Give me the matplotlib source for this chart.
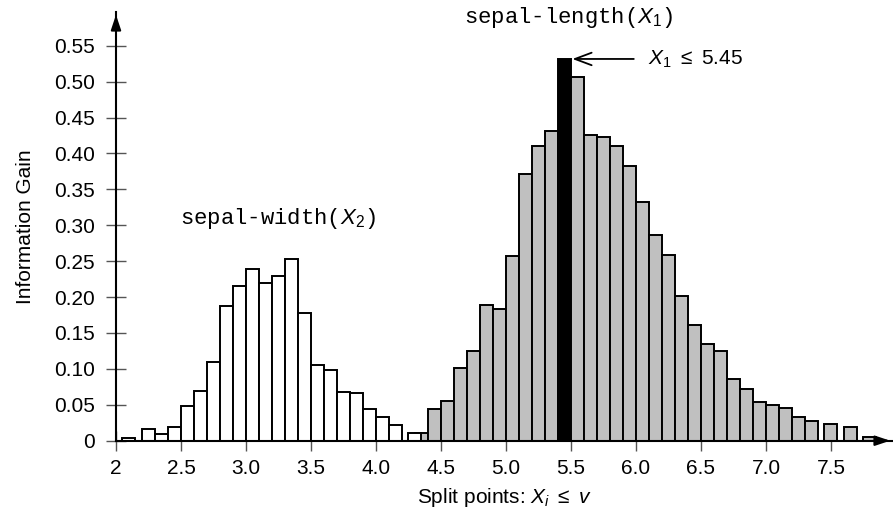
import matplotlib
matplotlib.use("Agg")
import matplotlib.pyplot as plt

plt.rcParams["font.family"] = ["Liberation Sans", "DejaVu Sans"]
plt.rcParams["mathtext.fontset"] = "custom"
plt.rcParams["mathtext.rm"] = "Liberation Sans"
plt.rcParams["mathtext.it"] = "Liberation Sans:italic"

# ----- Daten ----------------------------------------------------------------

# sepal-width (X2): Split-Punkte und Information Gain
width_splits = [2.1, 2.25, 2.35, 2.45, 2.55, 2.65, 2.75, 2.85, 2.95, 3.05, 3.15,
                3.25, 3.35, 3.45, 3.55, 3.65, 3.75, 3.85, 3.95, 4.05, 4.15, 4.3]
width_gain = [0.004, 0.016, 0.010, 0.0185, 0.048, 0.069, 0.110, 0.187, 0.216,
              0.239, 0.220, 0.229, 0.253, 0.178, 0.106, 0.099, 0.068, 0.066,
              0.0435, 0.0325, 0.022, 0.0105]

# sepal-length (X1)
length_splits = [4.35, 4.45, 4.55, 4.65, 4.75, 4.85, 4.95, 5.05, 5.15, 5.25,
                 5.35, 5.45, 5.55, 5.65, 5.75, 5.85, 5.95, 6.05, 6.15, 6.25,
                 6.35, 6.45, 6.55, 6.65, 6.75, 6.85, 6.95, 7.05, 7.15, 7.25,
                 7.35, 7.5, 7.65, 7.8]
length_gain = [0.0105, 0.0437, 0.0552, 0.1007, 0.1253, 0.1885, 0.1838, 0.2572,
               0.3714, 0.4104, 0.4317, 0.5316, 0.506, 0.4257, 0.4229, 0.4104,
               0.3825, 0.332, 0.2864, 0.2586, 0.2019, 0.1616, 0.1351, 0.1244,
               0.0854, 0.0715, 0.0534, 0.0492, 0.045, 0.0325, 0.0279, 0.0237,
               0.0195, 0.0046]
best_split = 5.45

x_ticks = [2, 2.5, 3.0, 3.5, 4.0, 4.5, 5.0, 5.5, 6.0, 6.5, 7.0, 7.5]
x_labels = ["2", "2.5", "3.0", "3.5", "4.0", "4.5", "5.0", "5.5", "6.0",
            "6.5", "7.0", "7.5"]
y_ticks = [0, 0.05, 0.10, 0.15, 0.20, 0.25, 0.30, 0.35, 0.40, 0.45, 0.50, 0.55]
y_labels = ["0", "0.05", "0.10", "0.15", "0.20", "0.25", "0.30", "0.35",
            "0.40", "0.45", "0.50", "0.55"]

# ----- Plot -------------------------------------------------------------------

W, H = 893, 515
FS = 15
fig = plt.figure(figsize=(W / 100, H / 100), dpi=100)
ax = fig.add_axes([116 / W, (H - 440.7) / H, 777 / W, 428.7 / H])
ax.set_xlim(2, 7.977)
ax.set_ylim(0, 0.597)

colors = ["black" if abs(s - best_split) < 1e-9 else "#c0c0c0" for s in length_splits]
ax.bar(length_splits, length_gain, width=0.1, color=colors,
       edgecolor="black", linewidth=1.4, zorder=2)
ax.bar(width_splits, width_gain, width=0.1, color="white",
       edgecolor="black", linewidth=1.4, zorder=3)

for s in ["top", "right"]:
    ax.spines[s].set_visible(False)
for s in ["left", "bottom"]:
    ax.spines[s].set_linewidth(1.5)
    ax.spines[s].set_zorder(4)

ax.set_xticks(x_ticks)
ax.set_xticklabels(x_labels)
ax.set_yticks(y_ticks)
ax.set_yticklabels(y_labels)
ax.tick_params(axis="both", direction="inout", length=14, width=1.0,
               color="#555555", labelsize=FS)
ax.tick_params(axis="y", pad=8)
ax.tick_params(axis="x", pad=6)

# Achsenpfeile
ax.annotate("", xy=(1.0, 0), xytext=(0.98, 0), xycoords="axes fraction",
            arrowprops=dict(arrowstyle="-|>,head_length=0.9,head_width=0.3",
                            color="black", lw=1.5), annotation_clip=False)
ax.annotate("", xy=(0, 1.0), xytext=(0, 0.97), xycoords="axes fraction",
            arrowprops=dict(arrowstyle="-|>,head_length=0.9,head_width=0.3",
                            color="black", lw=1.5), annotation_clip=False)

ax.set_ylabel("Information Gain", fontsize=FS, labelpad=14)
ax.set_xlabel(r"Split points: $X_i\ \leq\ v$", fontsize=FS, labelpad=6)

ax.text(5.48, 0.589, r"sepal-length($X_1$)", family="Liberation Mono",
        fontsize=16, ha="center", va="center")
ax.text(3.25, 0.31, r"sepal-width($X_2$)", family="Liberation Mono",
        fontsize=16, ha="center", va="center")

ax.annotate(r"$X_1\ \leq\ 5.45$", xy=(5.5, 0.5316), xytext=(6.09, 0.5316),
            fontsize=FS, va="center", ha="left",
            arrowprops=dict(arrowstyle="->,head_length=0.8,head_width=0.3",
                            color="black", lw=1.3, shrinkA=8, shrinkB=1))

fig.savefig("out.png", dpi=100)
